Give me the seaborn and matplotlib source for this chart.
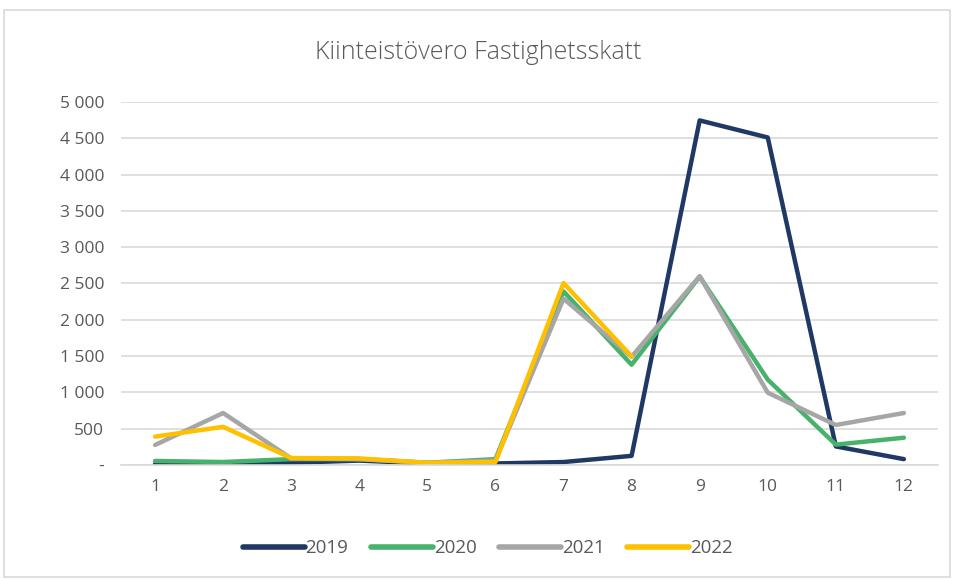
import pandas as pd
import seaborn as sns
import matplotlib.pyplot as plt
from matplotlib.patches import Rectangle
from matplotlib.ticker import FuncFormatter
import numpy as np

months = list(range(1, 13))
years = ['2019', '2020', '2021', '2022']
v2019 = [10, 10, 30, 60, 20, 20, 40, 125, 4745, 4510, 255, 80]
v2020 = [55, 40, 80, 80, 30, 80, 2390, 1380, 2595, 1175, 280, 375]
v2021 = [275, 715, 90, 80, 30, 60, 2290, 1490, 2600, 995, 550, 715]
v2022 = [390, 525, 95, 90, 30, 40, 2505, 1495, np.nan, np.nan, np.nan, np.nan]
colors = ['#203864', '#47b26b', '#a6a6a6', '#ffc000']

df = pd.DataFrame({
    'month': months * 4,
    'year': [y for y in years for _ in months],
    'value': v2019 + v2020 + v2021 + v2022,
})

sns.set_theme(style='white')
plt.rcParams['font.family'] = ['Open Sans', 'DejaVu Sans']
text_col = '#595959'

fig = plt.figure(figsize=(9.56, 5.79), dpi=100)
ax = fig.add_axes([0.1266, 0.197, 0.8545, 0.627])

sns.lineplot(data=df, x='month', y='value', hue='year', palette=colors,
             linewidth=3.2, ax=ax, legend=False)

ax.set_xlim(0.5, 12.5)
ax.set_ylim(0, 5000)
ax.set_xticks(months)
ax.set_yticks(range(0, 5001, 500))
ax.yaxis.set_major_formatter(FuncFormatter(
    lambda v, p: '-' if v == 0 else f'{int(v):,}'.replace(',', ' ')))
ax.grid(axis='y', color='#d9d9d9', linewidth=1.2)
ax.set_axisbelow(True)
for s in ['top', 'right', 'left']:
    ax.spines[s].set_visible(False)
ax.spines['bottom'].set_color('#d9d9d9')
ax.spines['bottom'].set_linewidth(1.2)
ax.tick_params(axis='both', length=0, labelsize=12.5, colors=text_col)
ax.tick_params(axis='y', pad=12)
ax.tick_params(axis='x', pad=10)
ax.set_xlabel('')
ax.set_ylabel('')

fig.text(0.5, 0.91, 'Kiinteistövero Fastighetsskatt', ha='center', va='center',
         fontsize=18, color=text_col, fontweight='light')

handles = [plt.Line2D([], [], color=c, linewidth=4, solid_capstyle='round') for c in colors]
fig.legend(handles, years, loc='center', bbox_to_anchor=(0.51, 0.053), ncol=4,
           frameon=False, fontsize=13.5, labelcolor=text_col, handlelength=3.3,
           handletextpad=0.05, columnspacing=1.2)

fig.patches.append(Rectangle((0.004, 0.004), 0.99, 0.978, transform=fig.transFigure,
                             fill=False, edgecolor='#d9d9d9', linewidth=1.2))

fig.savefig('out.png', dpi=100)
